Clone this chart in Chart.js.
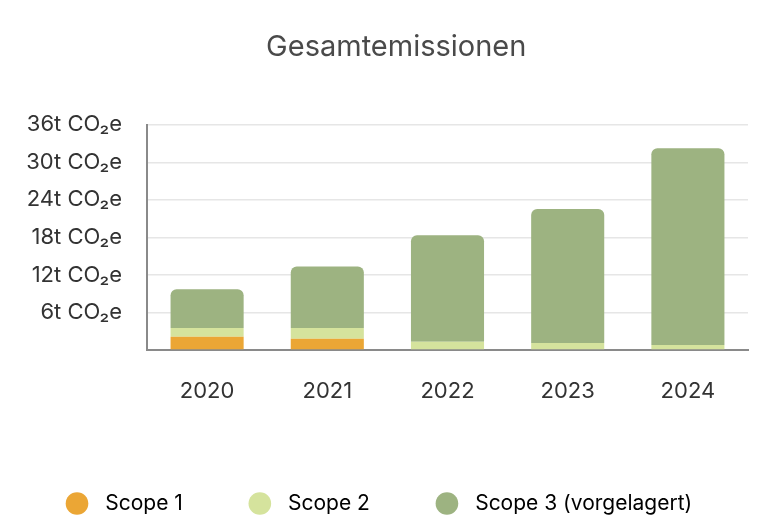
<!DOCTYPE html>
<html>
<head>
<meta charset="utf-8">
<script src="https://cdn.jsdelivr.net/npm/chart.js@4"></script>
<style>
  html, body { margin: 0; padding: 0; background: #ffffff; }
  #wrap { width: 768px; height: 527px; position: relative; }
</style>
</head>
<body>
<div id="wrap"><canvas id="emissionsChart"></canvas></div>
<script>
var years = ["2020", "2021", "2022", "2023", "2024"];
var scope1 = [2.1, 1.8, 0, 0, 0];
var scope2 = [1.4, 1.7, 1.3, 1.1, 0.8];
var scope3 = [6.2, 9.85, 17.05, 21.45, 31.45];
var seriesNames = ["Scope 1", "Scope 2", "Scope 3 (vorgelagert)"];
var yTicks = [0, 6, 12, 18, 24, 30, 36];

var colors = ["#eba635", "#d5e39d", "#9db381"];
var fontFamily = "Inter, 'Noto Sans', sans-serif";

const dataEmissions = {
  labels: years,
  datasets: [
    { label: seriesNames[0], data: scope1, backgroundColor: colors[0] },
    { label: seriesNames[1], data: scope2, backgroundColor: colors[1] },
    { label: seriesNames[2], data: scope3, backgroundColor: colors[2], borderRadius: 6 },
  ],
};

const configEmissions = {
  type: "bar",
  data: dataEmissions,
  options: {
    responsive: true,
    maintainAspectRatio: false,
    animation: false,
    categoryPercentage: 0.8,
    barPercentage: 0.76,
    layout: {
      padding: { top: 20, right: 0, bottom: 3, left: 0 },
    },
    plugins: {
      title: {
        display: true,
        text: "   Gesamtemissionen",
        color: "#4a4a4a",
        font: { family: fontFamily, size: 29, weight: "normal" },
        padding: { top: 10, bottom: 60 },
      },
      legend: {
        display: true,
        position: "bottom",
        align: "start",
        labels: {
          usePointStyle: true,
          pointStyle: "circle",
          boxWidth: 16,
          boxHeight: 16,
          padding: 69,
          color: "#444444",
          font: { family: fontFamily, size: 21 },
          generateLabels: function(chart) {
            return chart.data.datasets.map(function(ds, i) {
              return {
                text: " \u2009" + ds.label,
                fillStyle: ds.backgroundColor,
                strokeStyle: ds.backgroundColor,
                lineWidth: 0,
                pointStyle: "circle",
                hidden: false,
                datasetIndex: i,
              };
            });
          },
        },
      },
      tooltip: { enabled: false },
    },
    scales: {
      x: {
        stacked: true,
        grid: { display: false, drawTicks: false },
        border: { color: "#8a8a8a", width: 2 },
        ticks: {
          color: "#333333",
          padding: 28,
          font: { family: fontFamily, size: 22 },
        },
        afterFit: function(scale) {
          scale.height -= 8.4;
        },
      },
      y: {
        stacked: true,
        min: 0,
        max: 36,
        afterBuildTicks: function(scale) {
          scale.ticks = yTicks.map(function(v) { return { value: v }; });
        },
        grid: { color: "#e6e6e6", lineWidth: 1.5, drawTicks: false },
        border: { color: "#8a8a8a", width: 2 },
        ticks: {
          autoSkip: false,
          color: "#333333",
          padding: 25,
          font: { family: fontFamily, size: 22 },
          callback: function(value) {
            return value === 0 ? "" : value + "t CO\u2082e";
          },
        },
        afterFit: function(scale) {
          scale.width = 147;
        },
      },
      // empty spacer on the right so the plot ends where the reference does
      yRight: {
        position: "right",
        min: 0,
        max: 36,
        grid: { display: false, drawTicks: false },
        border: { display: false },
        ticks: { display: false },
        afterFit: function(scale) {
          scale.width = 20;
        },
      },
    },
  },
};

var emissionsChart = new Chart(
  document.getElementById("emissionsChart"),
  configEmissions
);
</script>
</body>
</html>
